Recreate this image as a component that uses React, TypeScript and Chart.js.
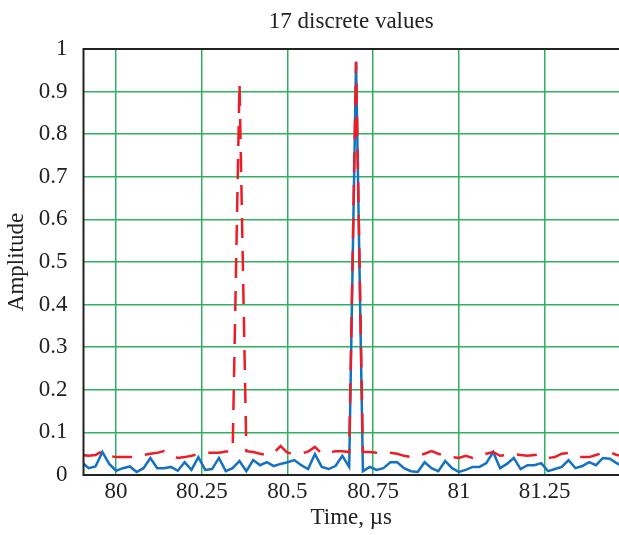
import React, { useEffect, useRef } from "react";
import { Chart, registerables } from "chart.js";

Chart.register(...registerables);

// Sample instants, µs
const timeUs = [
  79.90, 79.92, 79.94, 79.96, 79.98,
  80.00, 80.02, 80.04, 80.06, 80.08,
  80.10, 80.12, 80.14, 80.16, 80.18,
  80.20, 80.22, 80.24, 80.26, 80.28,
  80.30, 80.32, 80.34, 80.36, 80.38,
  80.40, 80.42, 80.44, 80.46, 80.48,
  80.50, 80.52, 80.54, 80.56, 80.58,
  80.60, 80.62, 80.64, 80.66, 80.68,
  80.70, 80.72, 80.74, 80.76, 80.78,
  80.80, 80.82, 80.84, 80.86, 80.88,
  80.90, 80.92, 80.94, 80.96, 80.98,
  81.00, 81.02, 81.04, 81.06, 81.08,
  81.10, 81.12, 81.14, 81.16, 81.18,
  81.20, 81.22, 81.24, 81.26, 81.28,
  81.30, 81.32, 81.34, 81.36, 81.38,
  81.40, 81.42, 81.44, 81.46, 81.48,
];

// Solid blue trace
const blueAmplitude = [
  0.030, 0.016, 0.020, 0.054, 0.026,
  0.010, 0.016, 0.020, 0.007, 0.016,
  0.040, 0.016, 0.016, 0.019, 0.010,
  0.030, 0.012, 0.042, 0.012, 0.014,
  0.040, 0.009, 0.016, 0.033, 0.009,
  0.035, 0.023, 0.030, 0.021, 0.026,
  0.030, 0.035, 0.023, 0.014, 0.049,
  0.019, 0.014, 0.021, 0.045, 0.019,
  0.970, 0.009, 0.019, 0.012, 0.016,
  0.030, 0.030, 0.016, 0.009, 0.007,
  0.030, 0.016, 0.009, 0.033, 0.016,
  0.007, 0.012, 0.019, 0.019, 0.028,
  0.054, 0.016, 0.026, 0.040, 0.014,
  0.023, 0.023, 0.028, 0.009, 0.014,
  0.019, 0.035, 0.016, 0.021, 0.030,
  0.023, 0.040, 0.038, 0.028, 0.020,
];

// Dashed red trace
const redAmplitude = [
  0.047, 0.045, 0.047, 0.056, 0.045,
  0.042, 0.042, 0.042, 0.042, 0.047,
  0.050, 0.052, 0.056, 0.047, 0.040,
  0.042, 0.045, 0.049, 0.052, 0.052,
  0.052, 0.055, 0.055, 0.920, 0.056,
  0.054, 0.050, 0.047, 0.052, 0.068,
  0.052, 0.050, 0.050, 0.055, 0.066,
  0.050, 0.052, 0.056, 0.056, 0.054,
  0.970, 0.054, 0.054, 0.052, 0.054,
  0.052, 0.050, 0.045, 0.042, 0.045,
  0.050, 0.056, 0.050, 0.045, 0.042,
  0.040, 0.045, 0.040, 0.045, 0.050,
  0.054, 0.045, 0.047, 0.049, 0.047,
  0.045, 0.047, 0.049, 0.040, 0.042,
  0.050, 0.052, 0.045, 0.042, 0.042,
  0.047, 0.052, 0.054, 0.047, 0.045,
];

const xTicks = [80, 80.25, 80.5, 80.75, 81, 81.25];
const yTicks = [0, 0.1, 0.2, 0.3, 0.4, 0.5, 0.6, 0.7, 0.8, 0.9, 1];

const chartTitle = "17 discrete values";
const xTitle = "Time, µs";
const yTitle = "Amplitude";

const FONT = "'Liberation Serif', 'Times New Roman', serif";
const GRID = "#2fb062";
const AXIS = "#222222";

// Title centred over the plot area plus the top/left/bottom frame lines
const framePlugin = {
  id: "frame",
  afterDraw(chart: any) {
    const { ctx, chartArea: a } = chart;
    ctx.save();
    ctx.strokeStyle = AXIS;
    ctx.lineWidth = 2;
    ctx.beginPath();
    ctx.moveTo(a.right + 2, a.top);
    ctx.lineTo(a.left, a.top);
    ctx.lineTo(a.left, a.bottom);
    ctx.lineTo(a.right + 2, a.bottom);
    ctx.stroke();
    ctx.fillStyle = "#222";
    ctx.font = `23px ${FONT}`;
    ctx.textAlign = "center";
    ctx.textBaseline = "middle";
    ctx.fillText(chartTitle, (a.left + a.right) / 2, 22);
    ctx.restore();
  },
};

export default function App() {
  const canvasRef = useRef<HTMLCanvasElement | null>(null);

  useEffect(() => {
    const canvas = canvasRef.current;
    if (!canvas) return;
    const chart = new Chart(canvas, {
      type: "line",
      data: {
        datasets: [
          {
            label: "dashed",
            data: timeUs.map((t, i) => ({ x: t, y: redAmplitude[i] })),
            borderColor: "#ee1c25",
            borderWidth: 2.5,
            borderDash: [20, 13],
            pointRadius: 0,
            tension: 0,
            fill: false,
          },
          {
            label: "solid",
            data: timeUs.map((t, i) => ({ x: t, y: blueAmplitude[i] })),
            borderColor: "#1571c1",
            borderWidth: 2.5,
            pointRadius: 0,
            tension: 0,
            fill: false,
          },
        ],
      },
      options: {
        responsive: false,
        animation: false,
        layout: { padding: { top: 49, right: 0, bottom: 0, left: 0 } },
        plugins: {
          legend: { display: false },
          title: { display: false },
          tooltip: { enabled: false },
        },
        scales: {
          x: {
            type: "linear",
            min: 79.905,
            max: 81.467,
            afterBuildTicks: (scale: any) => {
              scale.ticks = xTicks.map((v) => ({ value: v }));
            },
            afterFit: (scale: any) => {
              scale.height = 60;
            },
            ticks: {
              color: "#222",
              font: { family: FONT, size: 23 },
              padding: 3,
              maxRotation: 0,
              autoSkip: false,
              callback: (v: any) => String(Number(v)),
            },
            grid: { color: GRID, lineWidth: 1.5, drawTicks: false },
            border: { display: false },
            title: {
              display: true,
              text: xTitle,
              color: "#222",
              font: { family: FONT, size: 23 },
              padding: { top: 0, bottom: 3 },
            },
          },
          y: {
            type: "linear",
            min: 0,
            max: 1,
            afterBuildTicks: (scale: any) => {
              scale.ticks = yTicks.map((v) => ({ value: v }));
            },
            afterFit: (scale: any) => {
              scale.width = 83.5;
            },
            ticks: {
              color: "#222",
              font: { family: FONT, size: 23 },
              padding: 16,
              autoSkip: false,
              callback: (v: any) => String(Number(v)),
            },
            grid: { color: GRID, lineWidth: 1.5, drawTicks: false },
            border: { display: false },
            title: {
              display: true,
              text: yTitle,
              color: "#222",
              font: { family: FONT, size: 23 },
              padding: { top: 3, bottom: 0 },
            },
          },
        },
      },
      plugins: [framePlugin],
    });
    return () => chart.destroy();
  }, []);

  return (
    <div style={{ position: "absolute", left: 0, top: 0, width: 619, height: 535, background: "#fff" }}>
      <canvas ref={canvasRef} width={619} height={535} style={{ display: "block" }} />
    </div>
  );
}
